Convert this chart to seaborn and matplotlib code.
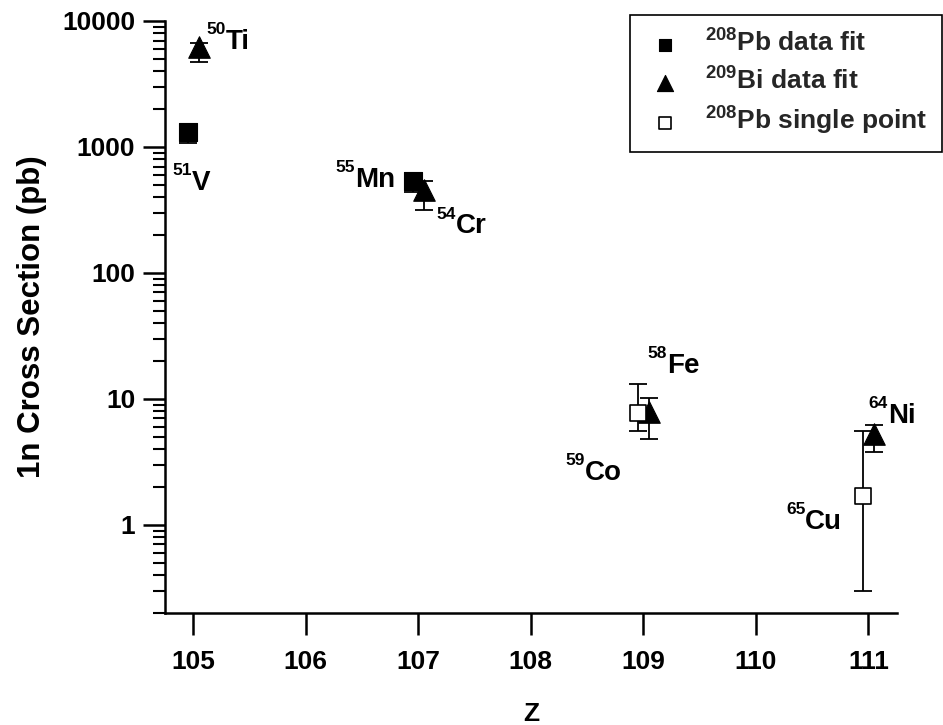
import numpy as np
import pandas as pd
import matplotlib
matplotlib.use("Agg")
import matplotlib.pyplot as plt
import seaborn as sns
from matplotlib.ticker import FixedLocator, FixedFormatter, LogLocator, NullFormatter, NullLocator

# ---------------- data ----------------
z_pb_fit = [105, 107]
xs_pb_fit = [1310, 537]
xs_pb_fit_lo = [1070, 441]
xs_pb_fit_hi = [1500, 620]

z_bi_fit = [105, 107, 109, 111]
xs_bi_fit = [6200, 456, 7.9, 5.3]
xs_bi_fit_lo = [4750, 316, 4.8, 3.8]
xs_bi_fit_hi = [6700, 537, 10.2, 6.2]

z_pb_single = [109, 111]
xs_pb_single = [7.7, 1.71]
xs_pb_single_lo = [5.6, 0.30]
xs_pb_single_hi = [13.1, 5.6]

series_labels = [r"$^{208}$Pb data fit", r"$^{209}$Bi data fit", r"$^{208}$Pb single point"]

projectile_mass = ["50", "51", "55", "54", "58", "59", "64", "65"]
projectile_elem = ["Ti", "V", "Mn", "Cr", "Fe", "Co", "Ni", "Cu"]

x_ticks = [105, 106, 107, 108, 109, 110, 111]
y_ticks = [1, 10, 100, 1000, 10000]
y_tick_labels = ["1", "10", "100", "1000", "10000"]

# ---------------- style ----------------
sns.set_theme(style="ticks")
plt.rcParams["font.family"] = ["Liberation Sans", "DejaVu Sans"]
plt.rcParams["font.weight"] = "bold"
plt.rcParams["axes.labelweight"] = "bold"
plt.rcParams["mathtext.fontset"] = "custom"
plt.rcParams["mathtext.rm"] = "Liberation Sans:bold"
plt.rcParams["mathtext.bf"] = "Liberation Sans:bold"
plt.rcParams["mathtext.it"] = "Liberation Sans:bold"
plt.rcParams["mathtext.sf"] = "Liberation Sans:bold"

fig = plt.figure(figsize=(9.43, 7.25), dpi=100)
ax = fig.add_axes([165 / 943, 1 - 613 / 725, (897 - 165) / 943, (613 - 21) / 725])

# plotting offsets (style only)
off_pb, off_bi = -0.05, 0.05

df_pb = pd.DataFrame({"Z": np.array(z_pb_fit) + off_pb, "xs": xs_pb_fit,
                      "lo": xs_pb_fit_lo, "hi": xs_pb_fit_hi})
df_bi = pd.DataFrame({"Z": np.array(z_bi_fit) + off_bi, "xs": xs_bi_fit,
                      "lo": xs_bi_fit_lo, "hi": xs_bi_fit_hi})
df_sp = pd.DataFrame({"Z": np.array(z_pb_single) + off_pb, "xs": xs_pb_single,
                      "lo": xs_pb_single_lo, "hi": xs_pb_single_hi})

eb_kw = dict(fmt="none", ecolor="black", elinewidth=1.3, capsize=6.5, capthick=1.3)
for d, zo in [(df_pb, 2), (df_bi, 4), (df_sp, 6)]:
    ax.errorbar(d["Z"], d["xs"], yerr=[d["xs"] - d["lo"], d["hi"] - d["xs"]], zorder=zo, **eb_kw)

sns.scatterplot(data=df_pb, x="Z", y="xs", marker="s", s=150, color="black",
                edgecolor="black", linewidth=0.8, ax=ax, zorder=3, label=series_labels[0])
sns.scatterplot(data=df_bi, x="Z", y="xs", marker="^", s=240, color="black",
                edgecolor="black", linewidth=0.8, ax=ax, zorder=5, label=series_labels[1])
sns.scatterplot(data=df_sp, x="Z", y="xs", marker="s", s=140, facecolor="white",
                edgecolor="black", linewidth=1.2, ax=ax, zorder=7, label=series_labels[2])

# projectile annotations: element symbol left edge / baseline, mass number as superscript
label_pos = [(105.29, 6000), (104.99, 456), (106.44, 482), (107.33, 207),
             (109.21, 16.1), (108.48, 2.28), (111.175, 6.46), (110.44, 0.93)]
for mass, elem, (lx, ly) in zip(projectile_mass, projectile_elem, label_pos):
    ax.text(lx, ly, elem, fontsize=20, fontweight="bold", ha="left", va="baseline",
            color="black", zorder=10)
    ax.annotate(mass, xy=(lx, ly), xytext=(0, 10.5), textcoords="offset points",
                fontsize=12.5, fontweight="bold", ha="right", va="baseline",
                color="black", zorder=10)

# axes
ax.set_yscale("log")
ax.set_xlim(104.748, 111.255)
ax.set_ylim(0.2, 10000)
ax.xaxis.set_major_locator(FixedLocator(x_ticks))
ax.xaxis.set_major_formatter(FixedFormatter([str(t) for t in x_ticks]))
ax.xaxis.set_minor_locator(NullLocator())
ax.yaxis.set_major_locator(FixedLocator(y_ticks))
ax.yaxis.set_major_formatter(FixedFormatter(y_tick_labels))
ax.yaxis.set_minor_locator(LogLocator(base=10, subs=np.arange(2, 10), numticks=20))
ax.yaxis.set_minor_formatter(NullFormatter())

for s in ["top", "right"]:
    ax.spines[s].set_visible(False)
for s in ["left", "bottom"]:
    ax.spines[s].set_linewidth(1.8)
    ax.spines[s].set_color("black")

ax.tick_params(axis="both", which="major", direction="out", length=15.5, width=1.8,
               labelsize=19, colors="black")
ax.tick_params(axis="x", which="major", pad=11)
ax.tick_params(axis="y", which="major", pad=6)
ax.tick_params(axis="y", which="minor", direction="out", length=8.5, width=1.5, color="black")
for lab in ax.get_xticklabels() + ax.get_yticklabels():
    lab.set_fontweight("bold")

ax.set_xlabel("Z", fontsize=19, fontweight="bold", color="black")
ax.set_ylabel("1n Cross Section (pb)", fontsize=22.5, fontweight="bold", color="black")
ax.xaxis.set_label_coords(0.5, (613 - 702) / 592)
ax.yaxis.set_label_coords((47 - 165) / 732, 0.5)
ax.grid(False)

leg = ax.legend(loc="upper right", bbox_to_anchor=(942 / 943, 1 - 15 / 725),
                bbox_transform=fig.transFigure, frameon=True, fancybox=False,
                edgecolor="black", fontsize=19, markerscale=0.75, borderpad=0.55,
                labelspacing=0.4, handletextpad=0.7, borderaxespad=0, handlelength=1.6,
                framealpha=1)
leg.get_frame().set_linewidth(1.2)

fig.savefig("out.png", dpi=100)
